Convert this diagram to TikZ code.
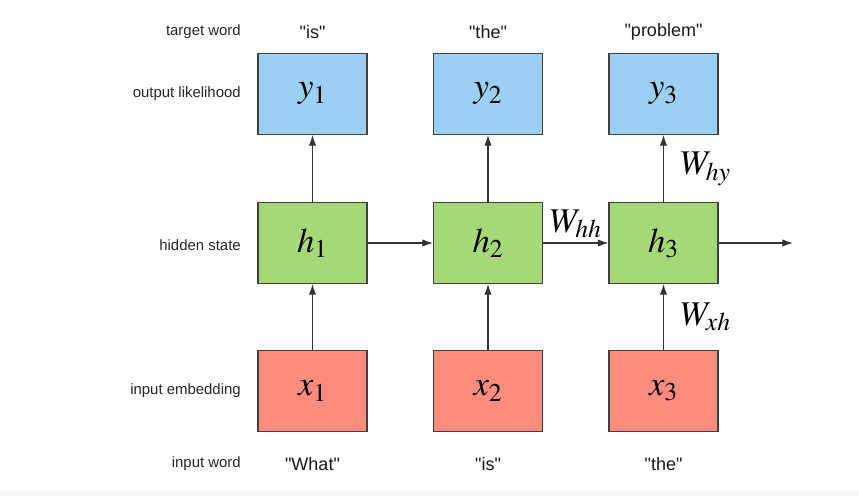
\documentclass[tikz,border=0pt]{standalone}
\usepackage{mathptmx}
\usepackage[no-math]{fontspec}
\setmainfont{Liberation Sans}
\usetikzlibrary{arrows.meta}
\definecolor{outblue}{HTML}{9CCFF2}
\definecolor{hidgreen}{HTML}{A5D977}
\definecolor{inred}{HTML}{FD8C7E}
\begin{document}
\begin{tikzpicture}[x=0.75pt, y=-0.75pt, >={Latex[length=8pt,width=5.5pt]}]

\tikzset{cell/.style={draw=black!75,line width=0.8pt,minimum width=81.75pt,minimum height=60.75pt,inner sep=0pt,font=\fontsize{26}{30}\selectfont},
rowlabel/.style={anchor=east,inner sep=0pt,font=\fontsize{11.2}{13}\selectfont,text=black!85},
wordlabel/.style={font=\fontsize{13.5}{16}\selectfont,text=black!90},
weight/.style={font=\fontsize{26}{30}\selectfont},
link/.style={->,draw=black!80,line width=0.8pt}}

% Canvas
\useasboundingbox (0,0) rectangle (859,496);
\fill[black!3] (0,490) rectangle (859,496);

% Row labels
\node[rowlabel] (lblTarget) at (241,32) {target word};
\node[rowlabel] (lblOut) at (241,94) {output likelihood};
\node[rowlabel] (lblHid) at (241,245) {hidden state};
\node[rowlabel] (lblEmb) at (241,391) {input embedding};
\node[rowlabel] (lblIn) at (241,464) {input word};

% Cells
\foreach \i/\x in {1/312.5, 2/488, 3/663.5} {
  \node[cell,fill=outblue] (y\i) at (\x,94) {$y_\i$};
  \node[cell,fill=hidgreen] (h\i) at (\x,243) {$h_\i$};
  \node[cell,fill=inred] (x\i) at (\x,391) {$x_\i$};
}

% Words
\foreach \i/\w in {1/is, 2/the, 3/problem} \node[wordlabel] (tw\i) at (y\i |- lblTarget) {\textquotedbl\w\textquotedbl};
\foreach \i/\w in {1/What, 2/is, 3/the} \node[wordlabel] (iw\i) at (x\i |- lblIn) {\textquotedbl\w\textquotedbl};

% Connections
\foreach \i in {1,2} {
  \draw[link] (x\i) -- (h\i);
  \draw[link] (h\i) -- (y\i);
}
\draw[link] (x3) -- node[weight,right=9pt] {$W_{xh}$} (h3);
\draw[link] (h3) -- node[weight,right=9pt] {$W_{hy}$} (y3);
\draw[link] (h1) -- (h2);
\draw[link] (h2) -- node[weight,above] {$W_{hh}$} (h3);
\coordinate (hout) at (793,243);
\draw[link] (h3) -- (hout);

\end{tikzpicture}
\end{document}
